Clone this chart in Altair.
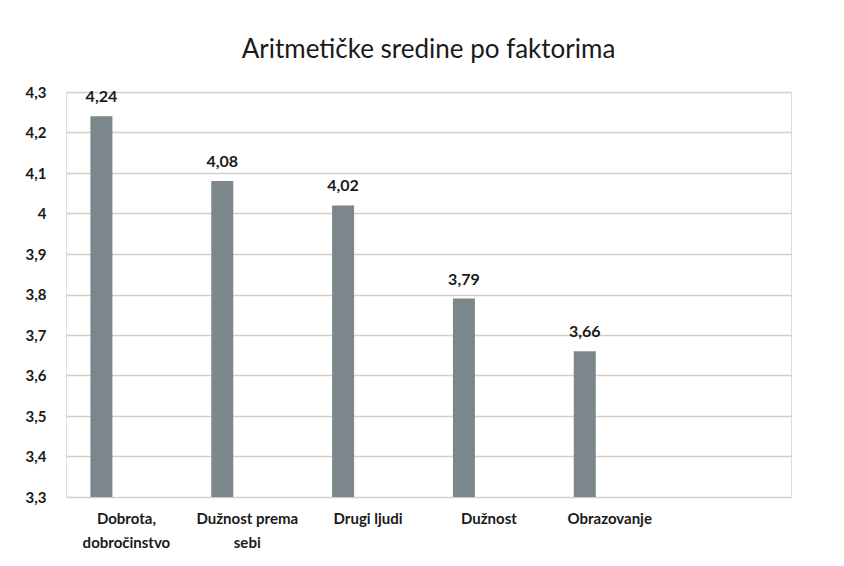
import altair as alt
import pandas as pd

# ---- data ----
categories = ["Dobrota, dobročinstvo", "Dužnost prema sebi", "Drugi ljudi", "Dužnost", "Obrazovanje"]
values = [4.24, 4.08, 4.02, 3.79, 3.66]
empty_slot = " "  # empty sixth category slot on the x axis
y_ticks = [3.3, 3.4, 3.5, 3.6, 3.7, 3.8, 3.9, 4.0, 4.1, 4.2, 4.3]
y_min, y_max = 3.3, 4.3
title_text = "Aritmetičke sredine po faktorima"

df = pd.DataFrame({"kategorija": categories, "vrijednost": values})

FONT = "Lato"
BAR_COLOR = "#7c878b"
GRID_COLOR = "#d6cecb"

x_enc = alt.X(
    "kategorija:N",
    sort=None,
    scale=alt.Scale(domain=categories + [empty_slot], paddingInner=0, paddingOuter=0),
    axis=alt.Axis(
        title=None,
        labelAngle=0,
        labelFont=FONT,
        labelFontSize=15,
        labelFontWeight="bold",
        labelColor="#1a1a1a",
        labelPadding=14,
        labelLineHeight=24,
        labelBaseline="top",
        ticks=False,
        domain=False,
        grid=False,
        labelExpr="datum.value == 'Dobrota, dobročinstvo' ? ['Dobrota,', 'dobročinstvo'] : "
                  "datum.value == 'Dužnost prema sebi' ? ['Dužnost prema', 'sebi'] : datum.label",
    ),
)

y_scale = alt.Scale(domain=[y_min, y_max], zero=False, nice=False)

bars = alt.Chart(df).mark_bar(color=BAR_COLOR, width=22, xOffset=-25).encode(
    x=x_enc,
    y=alt.Y(
        "vrijednost:Q",
        scale=y_scale,
        axis=alt.Axis(
            title=None,
            values=y_ticks,
            labelFont=FONT,
            labelFontSize=15,
            labelFontWeight="bold",
            labelColor="#1a1a1a",
            labelPadding=20,
            ticks=False,
            domain=False,
            grid=True,
            gridColor=GRID_COLOR,
            gridWidth=1.5,
            labelExpr="replace(format(datum.value, '~g'), '.', ',')",
        ),
    ),
    y2=alt.Y2(datum=y_min),
)

labels = alt.Chart(df).transform_calculate(
    lbl="replace(format(datum.vrijednost, '.2f'), '.', ',')"
).mark_text(
    font=FONT, fontSize=16, fontWeight="bold", color="#1a1a1a",
    baseline="bottom", dy=-11, xOffset=-25,
).encode(
    x=alt.X("kategorija:N", sort=None),
    y=alt.Y("vrijednost:Q", scale=y_scale),
    text="lbl:N",
)

chart = (
    alt.layer(bars, labels)
    .properties(
        width=725,
        height=405,
        title=alt.TitleParams(
            title_text, font=FONT, fontSize=26, fontWeight="normal",
            color="#1a1a1a", anchor="middle", offset=22,
        ),
        padding={"left": 17, "top": 29, "right": 10, "bottom": 10},
    )
    .configure_view(stroke=None)
    .configure(background="white")
)

chart.save("out.html", embed_options={"renderer": "svg", "actions": False})
